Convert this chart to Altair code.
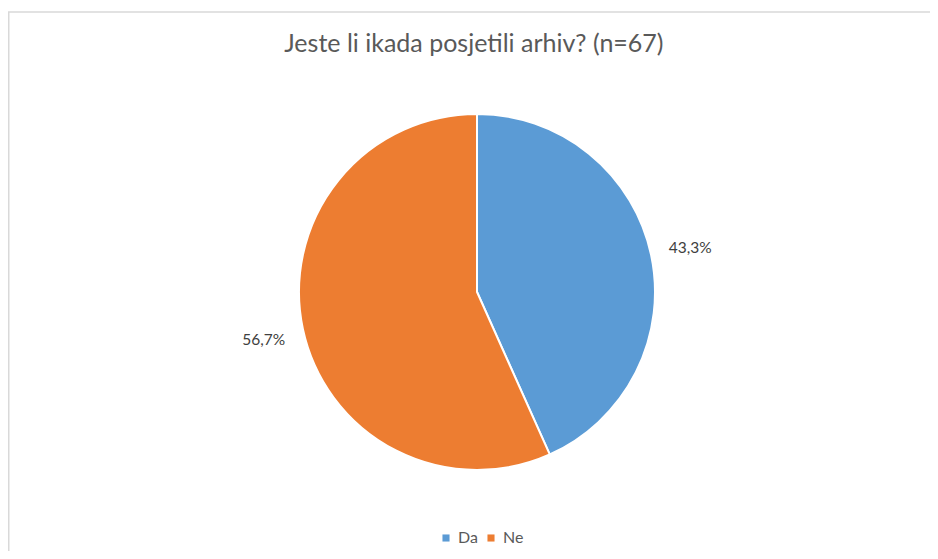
import altair as alt
import pandas as pd

categories = ["Da", "Ne"]
values = [43.3, 56.7]
labels = ["43,3%", "56,7%"]
colors = ["#5B9BD5", "#ED7D31"]

df = pd.DataFrame({"cat": categories, "val": values, "lab": labels, "ord": [0, 1]})
border = pd.DataFrame({"k": [0]})

W, H = 922, 543
CX, CY = 469, 284
R = 178

base = alt.Chart(df).encode(
    theta=alt.Theta("val:Q", stack=True),
    order=alt.Order("ord:Q"),
)

pie = base.mark_arc(outerRadius=R, stroke="white", strokeWidth=2).encode(
    x=alt.value(CX),
    y=alt.value(CY),
    color=alt.Color(
        "cat:N",
        scale=alt.Scale(domain=categories, range=colors),
        legend=alt.Legend(
            title=None,
            orient="none",
            legendX=430,
            legendY=522,
            direction="horizontal",
            symbolType="square",
            symbolSize=50,
            labelFont="Lato",
            labelFontSize=16,
            labelColor="#595959",
            columnPadding=5,
            symbolStrokeWidth=0,
        ),
    ),
)

text = base.mark_text(radius=218, font="Lato", fontSize=15.5, color="#404040", dy=2).encode(
    x=alt.value(CX),
    y=alt.value(CY),
    text="lab:N",
)

left_border = alt.Chart(border).mark_rule(color="#D9D9D9", strokeWidth=1.5).encode(
    x=alt.value(0.75), y=alt.value(4), y2=alt.value(H)
)
top_border = alt.Chart(border).mark_rule(color="#D9D9D9", strokeWidth=1.5).encode(
    x=alt.value(0), x2=alt.value(W), y=alt.value(4)
)

chart = (
    alt.layer(left_border, top_border, pie, text)
    .properties(
        width=W,
        height=H,
        padding=0,
        autosize=alt.AutoSizeParams(type="none"),
        title=alt.TitleParams(
            "Jeste li ikada posjetili arhiv? (n=67)",
            font="Lato",
            fontSize=25,
            fontWeight="normal",
            color="#595959",
            anchor="start",
            dx=277,
            dy=53,
        ),
    )
    .configure_view(stroke=None)
)

chart.save("out.html", embed_options={"renderer": "svg", "actions": False})
